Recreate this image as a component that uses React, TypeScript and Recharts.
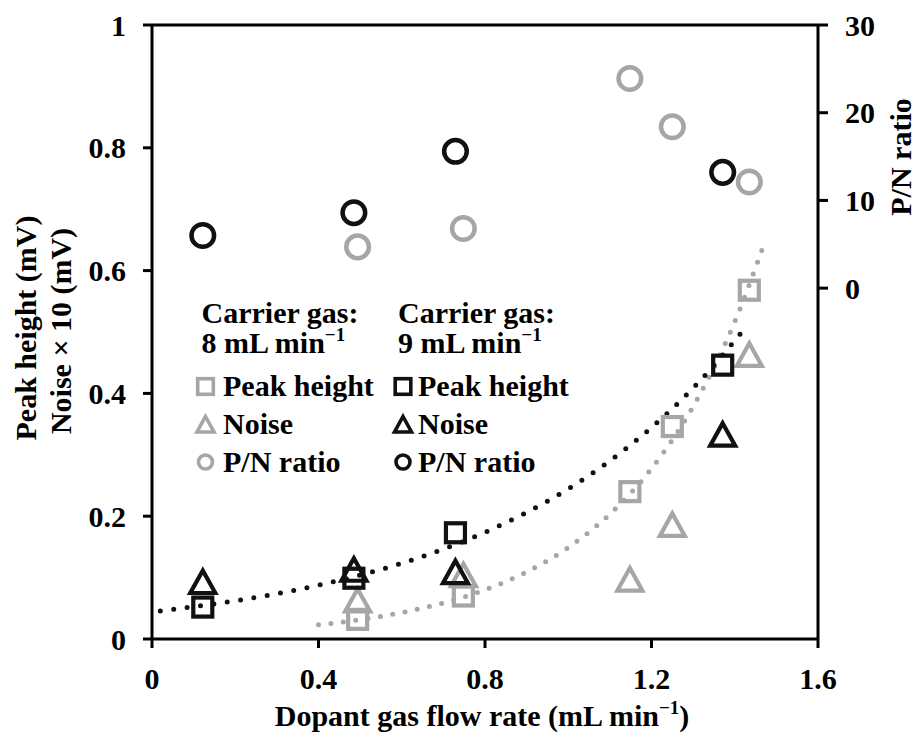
import React from "react";
import {
  ComposedChart,
  Scatter,
  Line,
  XAxis,
  YAxis,
  ReferenceLine,
} from "recharts";

// ---- Data ----
// Carrier gas 8 mL/min (gray)
const flow8 = [0.494, 0.748, 1.148, 1.25, 1.435];
const peak8 = [0.032, 0.07, 0.24, 0.346, 0.568];
const noise8 = [0.062, 0.103, 0.096, 0.185, 0.462];
const pn8 = [4.7, 6.8, 23.9, 18.4, 12.1];

// Carrier gas 9 mL/min (black)
const flow9 = [0.122, 0.485, 0.729, 1.371];
const peak9 = [0.052, 0.099, 0.173, 0.446];
const noise9 = [0.092, 0.112, 0.108, 0.332];
const pn9 = [6.0, 8.6, 15.6, 13.2];

// Dotted trend lines
const trend9X = [0.02, 0.2, 0.4, 0.6, 0.8, 1.0, 1.1, 1.2, 1.3, 1.43];
const trend9Y = [0.0457, 0.0622, 0.0876, 0.1234, 0.1737, 0.2446, 0.2903, 0.3444, 0.4086, 0.5106];
const trend8X = [0.4, 0.5, 0.6, 0.7, 0.8, 0.9, 1.0, 1.1, 1.2, 1.3, 1.4, 1.47];
const trend8Y = [0.0231, 0.0315, 0.043, 0.0587, 0.0801, 0.1092, 0.149, 0.2034, 0.2775, 0.3786, 0.5166, 0.6422];

// Axis ticks
const xTicks = [0, 0.4, 0.8, 1.2, 1.6];
const leftTicks = [0, 0.2, 0.4, 0.6, 0.8, 1];
const rightTicks = [0, 10, 20, 30];

const GRAY = "#a6a6a6";
const BLACK = "#111111";
const FONT = "'Liberation Serif', 'Times New Roman', serif";

const pts = (xs: number[], ys: number[]) => xs.map((x, i) => ({ x, y: ys[i] }));

const gPeak = pts(flow8, peak8);
const gNoise = pts(flow8, noise8);
const gPN = pts(flow8, pn8);
const bPeak = pts(flow9, peak9);
const bNoise = pts(flow9, noise9);
const bPN = pts(flow9, pn9);
const t9 = pts(trend9X, trend9Y);
const t8 = pts(trend8X, trend8Y);

const squareShape = (color: string) => (props: any) => {
  const { cx, cy } = props;
  const h = 9.5;
  return (
    <rect x={cx - h} y={cy - h} width={2 * h} height={2 * h} fill="none" stroke={color} strokeWidth={4.2} />
  );
};
const triShape = (color: string) => (props: any) => {
  const { cx, cy } = props;
  const d = `M${cx},${cy - 12} L${cx + 12.5},${cy + 10.5} L${cx - 12.5},${cy + 10.5} Z`;
  return <path d={d} fill="none" stroke={color} strokeWidth={4.2} strokeLinejoin="miter" />;
};
const circShape = (color: string) => (props: any) => {
  const { cx, cy } = props;
  return <circle cx={cx} cy={cy} r={11.3} fill="none" stroke={color} strokeWidth={4.5} />;
};

const tickStyle = { fill: "#000", fontSize: 30, fontFamily: FONT, fontWeight: "bold" as const };

const LegSquare = ({ x, y, c }: any) => (
  <rect x={x - 7.8} y={y - 7.8} width={15.6} height={15.6} fill="none" stroke={c} strokeWidth={3.6} />
);
const LegTri = ({ x, y, c }: any) => (
  <path d={`M${x},${y - 8.5} L${x + 8.5},${y + 7} L${x - 8.5},${y + 7} Z`} fill="none" stroke={c} strokeWidth={3.6} />
);
const LegCirc = ({ x, y, c }: any) => <circle cx={x} cy={y} r={7} fill="none" stroke={c} strokeWidth={3.6} />;

export default function App() {
  const textProps = { fontFamily: FONT, fontWeight: "bold" as const, fontSize: 30, fill: "#000" };
  return (
    <div style={{ position: "absolute", left: 0, top: 0, width: 916, height: 734, background: "#fff" }}>
      <ComposedChart width={916} height={734} margin={{ top: 25, right: 0, bottom: 0, left: 0 }}>
        <XAxis
          dataKey="x"
          type="number"
          domain={[0, 1.6]}
          ticks={xTicks}
          height={95}
          axisLine={{ stroke: "#000", strokeWidth: 3 }}
          tickLine={{ stroke: "#000", strokeWidth: 3 }}
          tickSize={9}
          tickMargin={20}
          tick={tickStyle}
          allowDataOverflow
        />
        <YAxis
          yAxisId="left"
          type="number"
          domain={[0, 1]}
          ticks={leftTicks}
          width={152}
          axisLine={{ stroke: "#000", strokeWidth: 3 }}
          tickLine={{ stroke: "#000", strokeWidth: 3 }}
          tickSize={9}
          tickMargin={17}
          tick={tickStyle}
          allowDataOverflow
        />
        <YAxis
          yAxisId="right"
          orientation="right"
          type="number"
          domain={[-40, 30]}
          ticks={rightTicks}
          width={98}
          axisLine={{ stroke: "#000", strokeWidth: 3 }}
          tickLine={{ stroke: "#000", strokeWidth: 3 }}
          tickSize={10}
          tickMargin={17}
          tick={tickStyle}
          allowDataOverflow
        />
        <ReferenceLine yAxisId="left" y={1} stroke="#000" strokeWidth={3} ifOverflow="visible" />

        <Line
          data={t8}
          dataKey="y"
          yAxisId="left"
          type="monotone"
          stroke={GRAY}
          strokeWidth={5}
          strokeDasharray="0 12.5"
          strokeLinecap="round"
          dot={false}
          activeDot={false}
          isAnimationActive={false}
        />
        <Line
          data={t9}
          dataKey="y"
          yAxisId="left"
          type="monotone"
          stroke={BLACK}
          strokeWidth={5}
          strokeDasharray="0 13.5"
          strokeLinecap="round"
          dot={false}
          activeDot={false}
          isAnimationActive={false}
        />

        <Scatter data={gPN} dataKey="y" yAxisId="right" shape={circShape(GRAY)} isAnimationActive={false} />
        <Scatter data={gNoise} dataKey="y" yAxisId="left" shape={triShape(GRAY)} isAnimationActive={false} />
        <Scatter data={gPeak} dataKey="y" yAxisId="left" shape={squareShape(GRAY)} isAnimationActive={false} />
        <Scatter data={bPN} dataKey="y" yAxisId="right" shape={circShape(BLACK)} isAnimationActive={false} />
        <Scatter data={bNoise} dataKey="y" yAxisId="left" shape={triShape(BLACK)} isAnimationActive={false} />
        <Scatter data={bPeak} dataKey="y" yAxisId="left" shape={squareShape(BLACK)} isAnimationActive={false} />
      </ComposedChart>

      <svg
        width={916}
        height={734}
        style={{ position: "absolute", left: 0, top: 0, pointerEvents: "none" }}
      >
        {/* Axis titles */}
        <text {...textProps} x={36} y={328} textAnchor="middle" transform="rotate(-90 36 328)">
          Peak height (mV)
        </text>
        <text {...textProps} x={71} y={331} textAnchor="middle" transform="rotate(-90 71 331)">
          Noise × 10 (mV)
        </text>
        <text {...textProps} x={911} y={157} textAnchor="middle" transform="rotate(-90 911 157)">
          P/N ratio
        </text>
        <text {...textProps} x={482} y={726} textAnchor="middle">
          Dopant gas flow rate (mL min
          <tspan fontSize={19} dy={-12}>−1</tspan>
          <tspan dy={12}>)</tspan>
        </text>

        {/* Legend */}
        <text {...textProps} x={201.5} y={323}>Carrier gas:</text>
        <text {...textProps} x={201.5} y={353}>
          8 mL min<tspan fontSize={19} dy={-12}>−1</tspan>
        </text>
        <text {...textProps} x={398} y={323}>Carrier gas:</text>
        <text {...textProps} x={398} y={353}>
          9 mL min<tspan fontSize={19} dy={-12}>−1</tspan>
        </text>

        <LegSquare x={205.5} y={386.5} c={GRAY} />
        <text {...textProps} x={223} y={396}>Peak height</text>
        <LegTri x={205.5} y={425} c={GRAY} />
        <text {...textProps} x={223} y={434}>Noise</text>
        <LegCirc x={205.5} y={462} c={GRAY} />
        <text {...textProps} x={223} y={472}>P/N ratio</text>

        <LegSquare x={403} y={386.5} c={BLACK} />
        <text {...textProps} x={418} y={396}>Peak height</text>
        <LegTri x={403} y={425} c={BLACK} />
        <text {...textProps} x={418} y={434}>Noise</text>
        <LegCirc x={403} y={462} c={BLACK} />
        <text {...textProps} x={418} y={472}>P/N ratio</text>
      </svg>
    </div>
  );
}
